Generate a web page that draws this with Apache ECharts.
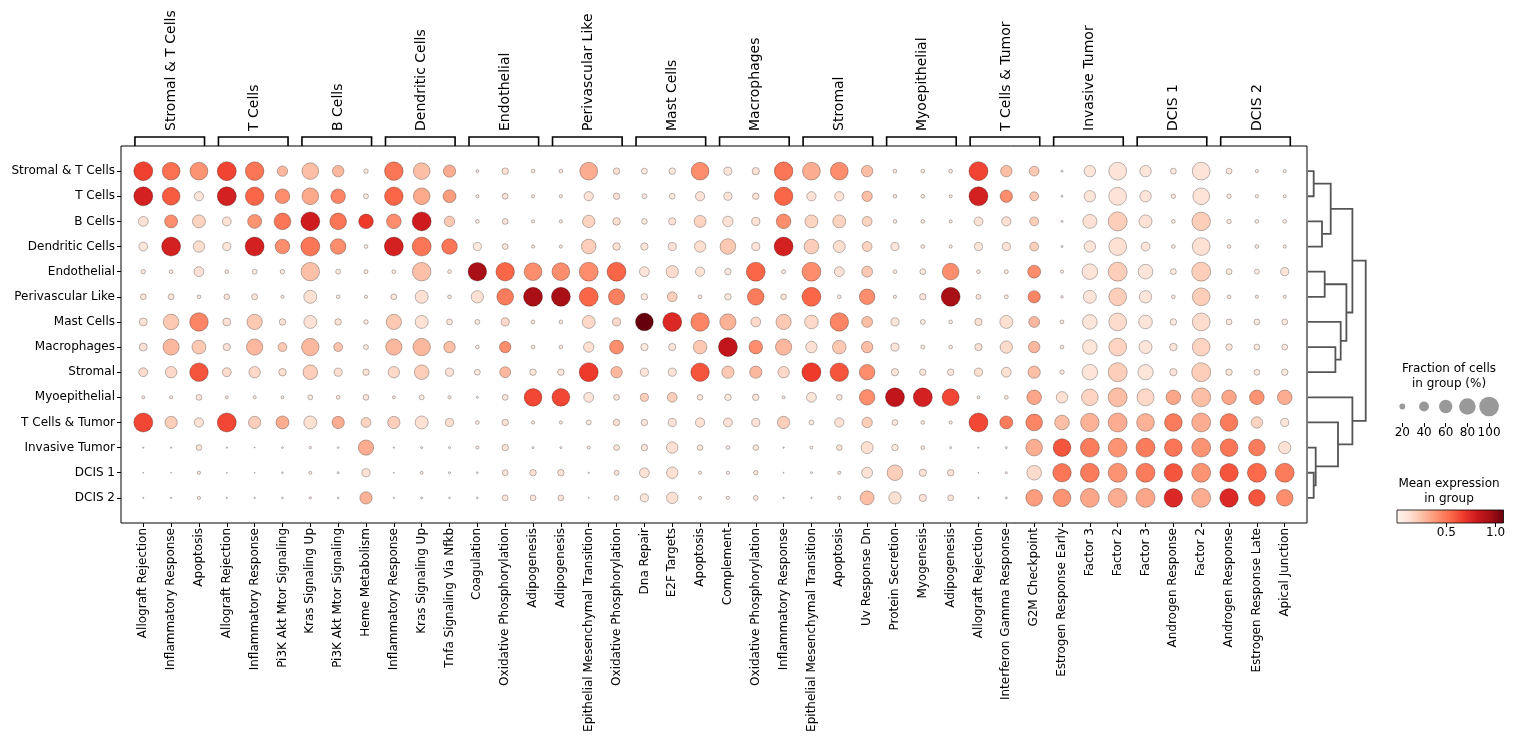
<!DOCTYPE html>
<html>
<head>
<meta charset="utf-8">
<title>Hallmark dot plot</title>
<script src="https://cdn.jsdelivr.net/npm/echarts@6.0.0/dist/echarts.min.js"></script>
<style>
  html, body { margin: 0; padding: 0; background: #fff; }
  #chart { width: 1516px; height: 745px; }
</style>
</head>
<body>
<div id="chart"></div>
<script>
// rows (cell types), top to bottom
const cellTypes = ['Stromal & T Cells', 'T Cells', 'B Cells', 'Dendritic Cells', 'Endothelial', 'Perivascular Like',
  'Mast Cells', 'Macrophages', 'Stromal', 'Myoepithelial', 'T Cells & Tumor', 'Invasive Tumor', 'DCIS 1', 'DCIS 2']

// column groups in the header, 3 gene sets each
const geneGroups = ['Stromal & T Cells', 'T Cells', 'B Cells', 'Dendritic Cells', 'Endothelial', 'Perivascular Like',
  'Mast Cells', 'Macrophages', 'Stromal', 'Myoepithelial', 'T Cells & Tumor', 'Invasive Tumor', 'DCIS 1', 'DCIS 2']
const groupSize = 3

const genes = [
  'Allograft Rejection', 'Inflammatory Response', 'Apoptosis',
  'Allograft Rejection', 'Inflammatory Response', 'Pi3K Akt Mtor Signaling',
  'Kras Signaling Up', 'Pi3K Akt Mtor Signaling', 'Heme Metabolism',
  'Inflammatory Response', 'Kras Signaling Up', 'Tnfa Signaling Via Nfkb',
  'Coagulation', 'Oxidative Phosphorylation', 'Adipogenesis',
  'Adipogenesis', 'Epithelial Mesenchymal Transition', 'Oxidative Phosphorylation',
  'Dna Repair', 'E2F Targets', 'Apoptosis',
  'Complement', 'Oxidative Phosphorylation', 'Inflammatory Response',
  'Epithelial Mesenchymal Transition', 'Apoptosis', 'Uv Response Dn',
  'Protein Secretion', 'Myogenesis', 'Adipogenesis',
  'Allograft Rejection', 'Interferon Gamma Response', 'G2M Checkpoint',
  'Estrogen Response Early', 'Factor 3', 'Factor 2',
  'Factor 3', 'Androgen Response', 'Factor 2',
  'Androgen Response', 'Estrogen Response Late', 'Apical Junction',
]

// fraction of cells in group (%), one line per gene column, values follow cellTypes order
const fractionPct = [
  [96, 96, 40, 35, 14, 20, 30, 30, 35, 8, 96, 3, 2, 3],
  [88, 88, 58, 96, 11, 20, 74, 78, 49, 9, 54, 3, 2, 3],
  [88, 37, 58, 49, 40, 11, 93, 64, 93, 20, 37, 19, 9, 9],
  [96, 96, 35, 31, 11, 19, 30, 27, 35, 8, 96, 3, 2, 3],
  [93, 93, 64, 96, 16, 21, 72, 78, 49, 9, 54, 2, 2, 3],
  [43, 68, 81, 68, 14, 9, 23, 35, 28, 8, 58, 4, 4, 4],
  [81, 81, 96, 96, 93, 58, 58, 86, 68, 16, 58, 6, 8, 6],
  [49, 68, 81, 74, 16, 11, 23, 35, 31, 11, 54, 4, 5, 4],
  [14, 16, 68, 11, 12, 9, 14, 16, 23, 20, 40, 72, 31, 54],
  [93, 93, 68, 96, 11, 20, 72, 78, 49, 8, 54, 3, 2, 3],
  [81, 81, 96, 96, 93, 58, 58, 86, 68, 16, 58, 5, 8, 5],
  [54, 58, 43, 74, 11, 11, 20, 49, 31, 9, 31, 5, 5, 4],
  [8, 9, 11, 31, 93, 54, 16, 11, 20, 5, 11, 9, 4, 4],
  [23, 20, 20, 20, 93, 81, 31, 49, 46, 20, 23, 23, 20, 20],
  [11, 9, 9, 9, 88, 96, 11, 11, 23, 88, 9, 5, 23, 20],
  [11, 9, 9, 9, 88, 96, 11, 11, 23, 88, 9, 5, 23, 20],
  [88, 37, 54, 68, 96, 96, 58, 43, 96, 40, 16, 9, 3, 2],
  [23, 23, 28, 28, 96, 78, 31, 64, 49, 20, 23, 20, 16, 16],
  [20, 16, 19, 27, 40, 23, 88, 27, 31, 31, 23, 23, 40, 31],
  [23, 20, 27, 31, 54, 40, 96, 27, 31, 40, 31, 49, 49, 49],
  [88, 37, 52, 49, 37, 11, 93, 62, 93, 19, 37, 19, 9, 9],
  [31, 31, 43, 74, 23, 23, 78, 96, 54, 23, 35, 11, 9, 9],
  [27, 23, 31, 31, 96, 81, 40, 62, 54, 23, 31, 19, 14, 16],
  [93, 93, 68, 96, 12, 19, 72, 78, 49, 8, 54, 3, 2, 3],
  [88, 37, 58, 68, 96, 96, 62, 49, 96, 40, 16, 8, 5, 3],
  [88, 37, 58, 52, 40, 11, 93, 62, 93, 19, 37, 19, 9, 9],
  [49, 43, 40, 40, 46, 74, 46, 49, 74, 74, 43, 52, 46, 64],
  [11, 11, 11, 31, 11, 9, 31, 31, 27, 96, 20, 23, 74, 54],
  [11, 11, 11, 11, 20, 23, 16, 12, 23, 96, 11, 11, 27, 27],
  [11, 9, 9, 9, 81, 96, 11, 11, 23, 83, 9, 5, 23, 20],
  [96, 96, 35, 31, 11, 16, 27, 27, 31, 8, 96, 3, 2, 3],
  [49, 54, 37, 31, 12, 12, 58, 54, 40, 11, 58, 5, 5, 5],
  [40, 35, 35, 35, 58, 54, 46, 49, 54, 68, 81, 81, 68, 81],
  [5, 5, 5, 5, 9, 6, 11, 11, 14, 49, 68, 88, 93, 88],
  [49, 49, 64, 49, 74, 58, 68, 68, 74, 81, 93, 96, 96, 96],
  [88, 88, 96, 88, 96, 88, 88, 88, 96, 96, 96, 96, 96, 96],
  [49, 49, 58, 35, 68, 54, 62, 58, 72, 83, 88, 96, 96, 96],
  [20, 14, 11, 11, 20, 11, 23, 28, 27, 68, 88, 88, 93, 93],
  [88, 81, 93, 88, 96, 88, 88, 88, 96, 96, 96, 96, 96, 96],
  [20, 14, 14, 11, 20, 11, 20, 23, 23, 68, 88, 88, 93, 93],
  [9, 9, 11, 11, 16, 9, 20, 20, 20, 68, 49, 81, 96, 81],
  [9, 8, 11, 9, 31, 9, 20, 20, 23, 68, 31, 54, 96, 81],
]

// mean expression in group, same layout as fractionPct
const meanExpr = [
  [0.66, 0.78, 0.12, 0.10, 0.08, 0.10, 0.12, 0.12, 0.15, 0.08, 0.64, 0.05, 0.05, 0.05],
  [0.52, 0.58, 0.42, 0.78, 0.08, 0.10, 0.22, 0.28, 0.16, 0.08, 0.20, 0.05, 0.05, 0.05],
  [0.40, 0.10, 0.18, 0.14, 0.12, 0.08, 0.45, 0.22, 0.60, 0.10, 0.12, 0.10, 0.08, 0.08],
  [0.65, 0.78, 0.12, 0.10, 0.08, 0.10, 0.12, 0.12, 0.15, 0.08, 0.64, 0.05, 0.05, 0.05],
  [0.50, 0.55, 0.40, 0.78, 0.08, 0.10, 0.22, 0.28, 0.16, 0.08, 0.20, 0.05, 0.05, 0.05],
  [0.28, 0.42, 0.50, 0.42, 0.08, 0.08, 0.12, 0.22, 0.14, 0.08, 0.32, 0.05, 0.05, 0.05],
  [0.26, 0.33, 0.80, 0.50, 0.25, 0.13, 0.12, 0.28, 0.20, 0.08, 0.13, 0.06, 0.06, 0.06],
  [0.28, 0.45, 0.50, 0.42, 0.08, 0.08, 0.12, 0.24, 0.14, 0.08, 0.32, 0.05, 0.05, 0.05],
  [0.08, 0.08, 0.68, 0.08, 0.08, 0.06, 0.08, 0.08, 0.12, 0.10, 0.18, 0.32, 0.12, 0.30],
  [0.50, 0.55, 0.42, 0.78, 0.08, 0.10, 0.22, 0.28, 0.16, 0.08, 0.20, 0.05, 0.05, 0.05],
  [0.26, 0.33, 0.80, 0.50, 0.25, 0.13, 0.12, 0.28, 0.20, 0.08, 0.13, 0.06, 0.06, 0.06],
  [0.32, 0.37, 0.22, 0.50, 0.08, 0.08, 0.10, 0.26, 0.12, 0.08, 0.14, 0.05, 0.05, 0.05],
  [0.06, 0.06, 0.06, 0.08, 0.93, 0.13, 0.08, 0.06, 0.08, 0.06, 0.06, 0.06, 0.05, 0.05],
  [0.13, 0.12, 0.10, 0.10, 0.55, 0.48, 0.16, 0.42, 0.28, 0.10, 0.12, 0.10, 0.10, 0.10],
  [0.08, 0.08, 0.08, 0.08, 0.42, 0.93, 0.08, 0.08, 0.10, 0.64, 0.08, 0.06, 0.12, 0.10],
  [0.08, 0.08, 0.08, 0.08, 0.42, 0.93, 0.08, 0.08, 0.10, 0.64, 0.08, 0.06, 0.12, 0.10],
  [0.32, 0.12, 0.18, 0.20, 0.42, 0.55, 0.16, 0.13, 0.68, 0.10, 0.08, 0.06, 0.05, 0.05],
  [0.12, 0.12, 0.14, 0.13, 0.55, 0.47, 0.16, 0.42, 0.28, 0.10, 0.12, 0.10, 0.10, 0.10],
  [0.08, 0.08, 0.08, 0.10, 0.10, 0.08, 1.08, 0.08, 0.10, 0.20, 0.10, 0.10, 0.12, 0.10],
  [0.08, 0.08, 0.12, 0.12, 0.15, 0.20, 0.75, 0.10, 0.12, 0.20, 0.12, 0.13, 0.13, 0.13],
  [0.42, 0.12, 0.18, 0.14, 0.12, 0.08, 0.45, 0.22, 0.60, 0.10, 0.12, 0.10, 0.08, 0.08],
  [0.10, 0.10, 0.12, 0.22, 0.08, 0.08, 0.30, 0.85, 0.22, 0.08, 0.12, 0.06, 0.06, 0.06],
  [0.12, 0.12, 0.12, 0.12, 0.55, 0.48, 0.16, 0.42, 0.28, 0.10, 0.12, 0.10, 0.10, 0.10],
  [0.50, 0.55, 0.42, 0.78, 0.08, 0.10, 0.22, 0.28, 0.16, 0.08, 0.20, 0.05, 0.05, 0.05],
  [0.32, 0.12, 0.18, 0.20, 0.42, 0.55, 0.16, 0.13, 0.68, 0.10, 0.08, 0.06, 0.05, 0.05],
  [0.42, 0.12, 0.18, 0.14, 0.12, 0.08, 0.45, 0.22, 0.60, 0.10, 0.12, 0.10, 0.08, 0.08],
  [0.26, 0.26, 0.18, 0.18, 0.22, 0.42, 0.26, 0.26, 0.42, 0.42, 0.20, 0.13, 0.12, 0.26],
  [0.08, 0.08, 0.08, 0.10, 0.08, 0.08, 0.10, 0.10, 0.10, 0.85, 0.08, 0.08, 0.20, 0.13],
  [0.08, 0.08, 0.08, 0.08, 0.08, 0.10, 0.08, 0.08, 0.10, 0.78, 0.08, 0.08, 0.12, 0.12],
  [0.08, 0.08, 0.08, 0.08, 0.42, 0.93, 0.08, 0.08, 0.10, 0.64, 0.08, 0.06, 0.12, 0.10],
  [0.65, 0.78, 0.12, 0.10, 0.08, 0.10, 0.12, 0.12, 0.14, 0.08, 0.64, 0.05, 0.05, 0.05],
  [0.26, 0.42, 0.13, 0.12, 0.08, 0.08, 0.13, 0.15, 0.13, 0.08, 0.48, 0.06, 0.06, 0.06],
  [0.22, 0.22, 0.20, 0.20, 0.42, 0.45, 0.28, 0.28, 0.26, 0.34, 0.45, 0.32, 0.15, 0.37],
  [0.06, 0.06, 0.06, 0.06, 0.06, 0.06, 0.08, 0.08, 0.08, 0.13, 0.26, 0.60, 0.50, 0.40],
  [0.10, 0.10, 0.12, 0.10, 0.11, 0.10, 0.10, 0.10, 0.10, 0.18, 0.30, 0.48, 0.48, 0.34],
  [0.11, 0.11, 0.20, 0.13, 0.20, 0.20, 0.15, 0.18, 0.20, 0.26, 0.32, 0.40, 0.40, 0.32],
  [0.10, 0.10, 0.12, 0.10, 0.10, 0.10, 0.10, 0.10, 0.10, 0.16, 0.30, 0.48, 0.48, 0.34],
  [0.08, 0.08, 0.08, 0.08, 0.08, 0.08, 0.08, 0.10, 0.10, 0.34, 0.48, 0.50, 0.60, 0.75],
  [0.11, 0.11, 0.20, 0.13, 0.20, 0.20, 0.15, 0.18, 0.20, 0.26, 0.32, 0.40, 0.40, 0.32],
  [0.08, 0.08, 0.08, 0.08, 0.08, 0.08, 0.08, 0.10, 0.10, 0.34, 0.48, 0.50, 0.60, 0.75],
  [0.06, 0.06, 0.06, 0.06, 0.06, 0.06, 0.08, 0.08, 0.08, 0.40, 0.18, 0.48, 0.54, 0.60],
  [0.06, 0.06, 0.06, 0.06, 0.10, 0.06, 0.08, 0.08, 0.08, 0.32, 0.10, 0.12, 0.48, 0.42],
]

// row dendrogram, scipy style: [childA, childB, distance]; nodes >= 14 are earlier merges
const linkage = [
  [0, 1, 5.7], [2, 3, 14], [14, 15, 22.7], [4, 5, 16.7], [7, 8, 27.4], [6, 18, 32.7],
  [17, 19, 38.4], [16, 20, 44.4], [12, 13, 5.7], [11, 22, 7.7], [10, 23, 30], [9, 24, 44.4],
  [21, 25, 57.7],
]

const sizeTicks = [20, 40, 60, 80, 100]
const colorTicks = [0.5, 1.0]
const colorMin = 0
const colorMax = 1.08
const reds = ['#fff5f0', '#fee0d2', '#fcbba1', '#fc9272', '#fb6a4a', '#ef3b2c', '#cb181d', '#a50f15', '#67000d']

const FONT = '"DejaVu Sans", "Liberation Sans", sans-serif'
const dotSize = pct => 19.6 * Math.pow(pct / 100, 0.75)

const dots = []
genes.forEach((g, c) => {
  cellTypes.forEach((t, r) => dots.push([c, r, fractionPct[c][r], meanExpr[c][r]]))
})

// leaf positions / heights for the dendrogram
const nodePos = cellTypes.map((_, i) => i)
const nodeHeight = cellTypes.map(() => 0)
linkage.forEach(([a, b, h]) => {
  nodePos.push((nodePos[a] + nodePos[b]) / 2)
  nodeHeight.push(h)
})

const colIdx = genes.map((_, i) => i)
const rowIdx = cellTypes.map((_, i) => i)
const noLine = { show: false, onZero: false }

const chart = echarts.init(document.getElementById('chart'))

const option = {
  animation: false,
  textStyle: { fontFamily: FONT },
  grid: [
    { left: 121, top: 146, width: 1186, height: 377, show: true, borderColor: '#000', borderWidth: 1 },
    { left: 1308, top: 146, width: 60, height: 377 },
    { left: 1391.5, top: 393, width: 108.4, height: 30 },
    {
      left: 1397, top: 510, width: 106.5, height: 13, show: true, borderColor: '#000', borderWidth: 0.8,
      backgroundColor: new echarts.graphic.LinearGradient(0, 0, 1, 0,
        reds.map((c, i) => ({ offset: i / (reds.length - 1), color: c }))),
    },
  ],
  xAxis: [
    {
      gridIndex: 0, type: 'value', min: -0.8, max: 41.8,
      splitLine: { show: false }, axisLine: noLine,
      axisTick: { customValues: colIdx, length: 4, lineStyle: { color: '#000' } },
      axisLabel: {
        customValues: colIdx, rotate: 90, margin: 5, fontSize: 12, color: '#000', fontFamily: FONT,
        formatter: v => genes[v],
      },
    },
    { gridIndex: 1, type: 'value', min: 0, max: 60, show: false, axisLine: noLine },
    {
      gridIndex: 2, type: 'value', min: 10, max: 110,
      splitLine: { show: false }, axisLine: noLine,
      axisTick: { customValues: sizeTicks, length: 4, lineStyle: { color: '#000' } },
      axisLabel: { customValues: sizeTicks, margin: 4, fontSize: 12, color: '#000', fontFamily: FONT },
    },
    {
      gridIndex: 3, type: 'value', min: colorMin, max: colorMax,
      splitLine: { show: false }, axisLine: noLine,
      axisTick: { customValues: colorTicks, length: 4, lineStyle: { color: '#000' } },
      axisLabel: {
        customValues: colorTicks, margin: 4, fontSize: 12, color: '#000', fontFamily: FONT,
        formatter: v => v.toFixed(1),
      },
    },
  ],
  yAxis: [
    {
      gridIndex: 0, type: 'value', min: -1, max: 14, inverse: true,
      splitLine: { show: false }, axisLine: noLine,
      axisTick: { customValues: rowIdx, length: 4, lineStyle: { color: '#000' } },
      axisLabel: {
        customValues: rowIdx, margin: 6, fontSize: 12, color: '#000', fontFamily: FONT,
        formatter: v => cellTypes[v],
      },
    },
    { gridIndex: 1, type: 'value', min: -1, max: 14, inverse: true, show: false, axisLine: noLine },
    { gridIndex: 2, type: 'value', min: 0, max: 1, show: false, axisLine: noLine },
    { gridIndex: 3, type: 'value', min: 0, max: 1, show: false, axisLine: noLine },
  ],
  visualMap: {
    type: 'continuous', show: false, seriesIndex: 0, dimension: 3,
    min: colorMin, max: colorMax, inRange: { color: reds },
  },
  graphic: [
    {
      type: 'text', x: 1449, y: 361,
      style: {
        text: 'Fraction of cells\nin group (%)', align: 'center', lineHeight: 15,
        font: '12px ' + FONT, fill: '#000',
      },
    },
    {
      type: 'text', x: 1449, y: 476,
      style: {
        text: 'Mean expression\nin group', align: 'center', lineHeight: 15,
        font: '12px ' + FONT, fill: '#000',
      },
    },
  ],
  series: [
    {
      type: 'scatter', xAxisIndex: 0, yAxisIndex: 0, silent: true,
      data: dots,
      symbolSize: v => dotSize(v[2]),
      itemStyle: { borderColor: 'rgba(0,0,0,0.45)', borderWidth: 0.6, opacity: 1 },
    },
    {
      // group brackets + labels above the plot
      type: 'custom', xAxisIndex: 0, yAxisIndex: 0, clip: false, silent: true,
      data: geneGroups.map((g, i) => [i * groupSize + 1, -1]),
      renderItem: (params, api) => {
        const i = params.dataIndex
        const start = i * groupSize
        const end = start + groupSize - 1
        const x0 = api.coord([start - 0.3, -1])[0]
        const x1 = api.coord([end + 0.2, -1])[0]
        const xc = api.coord([start + (groupSize - 1) / 2, -1])[0]
        const top = api.coord([start, -1])[1]
        return {
          type: 'group',
          children: [
            {
              type: 'polyline',
              shape: { points: [[x0, top], [x0, top - 9], [x1, top - 9], [x1, top]] },
              style: { stroke: '#000', lineWidth: 1.6, fill: null },
            },
            {
              type: 'text', x: xc, y: top - 15, rotation: Math.PI / 2,
              style: { text: geneGroups[i], fill: '#000', font: '14px ' + FONT, align: 'left', verticalAlign: 'middle' },
            },
          ],
        }
      },
    },
    {
      // row dendrogram
      type: 'custom', xAxisIndex: 1, yAxisIndex: 1, silent: true, clip: false,
      data: linkage.map((l, i) => [l[2], nodePos[cellTypes.length + i]]),
      renderItem: (params, api) => {
        const [a, b, h] = linkage[params.dataIndex]
        const pts = [
          [nodeHeight[a], nodePos[a]], [h, nodePos[a]], [h, nodePos[b]], [nodeHeight[b], nodePos[b]],
        ].map(p => api.coord(p))
        return { type: 'polyline', shape: { points: pts }, style: { stroke: '#555', lineWidth: 1.8, fill: null } }
      },
    },
    {
      // dot size legend
      type: 'scatter', xAxisIndex: 2, yAxisIndex: 2, silent: true,
      data: sizeTicks.map(v => [v, 0.55]),
      symbolSize: v => dotSize(v[0]),
      itemStyle: { color: '#808080' },
    },
  ],
}

chart.setOption(option)
</script>
</body>
</html>
